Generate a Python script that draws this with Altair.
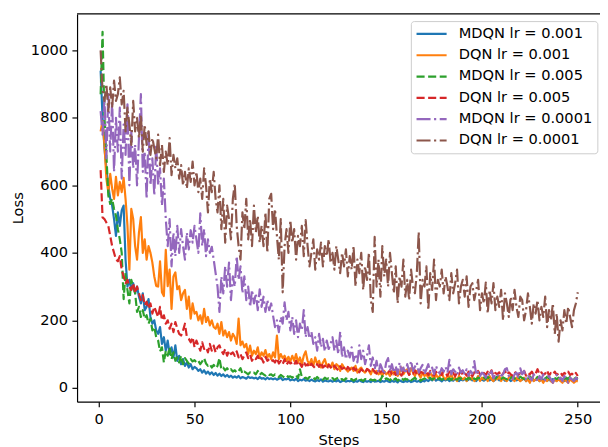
import altair as alt
import pandas as pd

steps = list(range(1, 251))

series_names = ["MDQN lr = 0.001", "DQN lr = 0.001", "MDQN lr = 0.005",
                "DQN lr = 0.005", "MDQN lr = 0.0001", "DQN lr = 0.0001"]

mdqn_001 = [
    940, 800, 710, 650, 600, 560, 540, 500, 450, 520,
    480, 526, 540, 380, 300, 320, 290, 310, 280, 300,
    270, 250, 280, 230, 240, 263, 210, 190, 200, 170,
    160, 180, 130, 150, 110, 140, 100, 120, 90, 126,
    80, 95, 70, 85, 65, 75, 60, 70, 55, 62,
    58, 50, 55, 45, 52, 42, 48, 40, 46, 38,
    44, 36, 42, 35, 40, 33, 38, 32, 36, 30,
    34, 30, 35, 28, 32, 30, 27, 33, 29, 31,
    28, 30, 26, 32, 27, 29, 25, 30, 26, 28,
    25, 28, 24, 27, 30, 23, 26, 25, 28, 22,
    25, 22, 27, 20, 24, 22, 26, 21, 23, 20,
    24, 21, 19, 23, 20, 25, 18, 22, 20, 19,
    22, 18, 21, 19, 23, 17, 20, 22, 18, 21,
    19, 22, 17, 20, 18, 23, 19, 17, 21, 18,
    20, 17, 22, 18, 19, 21, 17, 20, 18, 22,
    19, 17, 21, 18, 20, 16, 22, 19, 17, 20,
    18, 21, 17, 19, 22, 18, 20, 17, 21, 19,
    24, 20, 26, 22, 28, 21, 25, 23, 19, 24,
    22, 26, 20, 24, 21, 27, 23, 20, 25, 22,
    26, 21, 24, 28, 22, 25, 20, 27, 23, 24,
    21, 25, 28, 22, 26, 20, 24, 30, 22, 25,
    27, 21, 24, 26, 20, 23, 28, 22, 25, 21,
    24, 28, 20, 25, 22, 27, 21, 24, 26, 20,
    25, 22, 28, 21, 24, 20, 26, 23, 21, 25,
    22, 26, 20, 24, 21, 25, 22, 20, 24, 22,
]

dqn_001 = [
    760, 790, 720, 620, 580, 634, 590, 560, 625, 570,
    610, 580, 622, 560, 480, 350, 530, 500, 420, 380,
    460, 506, 400, 440, 380, 420, 400, 371, 330, 302,
    300, 375, 283, 272, 409, 301, 350, 234, 330, 342,
    292, 301, 260, 280, 290, 234, 270, 205, 250, 220,
    225, 200, 215, 190, 234, 195, 210, 185, 200, 180,
    175, 190, 160, 195, 155, 170, 150, 165, 140, 160,
    150, 130, 205, 126, 137, 120, 130, 100, 125, 95,
    110, 100, 120, 88, 105, 95, 112, 90, 100, 85,
    105, 90, 155, 85, 100, 88, 95, 80, 92, 78,
    95, 80, 100, 75, 90, 70, 95, 108, 80, 70,
    85, 65, 90, 70, 80, 60, 75, 85, 65, 70,
    60, 75, 55, 70, 65, 50, 70, 60, 55, 48,
    55, 60, 50, 65, 45, 55, 60, 50, 45, 55,
    50, 40, 55, 45, 50, 40, 45, 35, 50, 40,
    45, 35, 50, 40, 55, 35, 45, 60, 40, 50,
    55, 40, 60, 45, 35, 50, 40, 30, 45, 35,
    40, 30, 45, 35, 25, 40, 30, 35, 45, 30,
    25, 35, 30, 40, 25, 30, 20, 35, 30, 25,
    30, 20, 35, 25, 30, 20, 25, 35, 20, 30,
    25, 30, 20, 35, 25, 20, 30, 25, 35, 20,
    30, 25, 20, 30, 35, 25, 20, 30, 25, 20,
    25, 30, 20, 25, 15, 30, 20, 25, 30, 20,
    25, 15, 25, 20, 30, 20, 15, 25, 20, 25,
    20, 15, 25, 20, 15, 25, 20, 15, 20, 20,
]

mdqn_005 = [
    870, 1055, 800, 690, 570, 545, 560, 530, 510, 470,
    440, 400, 263, 340, 290, 250, 320, 300, 280, 225,
    240, 210, 230, 205, 215, 190, 205, 170, 180, 150,
    140, 108, 120, 75, 110, 95, 120, 85, 105, 80,
    90, 75, 95, 70, 88, 80, 72, 85, 78, 82,
    75, 80, 70, 78, 88, 72, 65, 70, 60, 68,
    58, 65, 88, 55, 60, 52, 58, 50, 55, 48,
    52, 45, 50, 58, 42, 48, 44, 40, 46, 42,
    45, 40, 50, 38, 44, 40, 36, 42, 38, 40,
    35, 40, 36, 32, 38, 34, 30, 36, 32, 34,
    30, 34, 38, 28, 55, 32, 28, 30, 26, 32,
    28, 30, 25, 32, 27, 29, 24, 30, 26, 28,
    25, 29, 23, 27, 30, 24, 26, 22, 28, 25,
    23, 26, 21, 25, 28, 22, 24, 20, 26, 23,
    21, 25, 22, 24, 20, 26, 22, 35, 24, 28,
    26, 22, 30, 24, 28, 21, 25, 30, 23, 27,
    24, 29, 22, 26, 30, 23, 27, 21, 25, 28,
    23, 27, 30, 24, 28, 22, 26, 29, 24, 27,
    30, 25, 28, 23, 32, 26, 24, 29, 27, 31,
    28, 24, 30, 26, 33, 27, 25, 30, 28, 26,
    30, 26, 32, 28, 25, 31, 27, 34, 29, 26,
    31, 28, 25, 32, 29, 35, 27, 30, 26, 33,
    29, 26, 31, 28, 34, 27, 30, 25, 32, 28,
    26, 30, 27, 33, 28, 25, 31, 29, 26, 30,
    28, 32, 26, 30, 27, 33, 29, 26, 30, 28,
]

dqn_005 = [
    645, 505, 500, 490, 480, 450, 420, 400, 380, 375,
    390, 350, 330, 310, 320, 300, 290, 310, 280, 300,
    280, 260, 275, 245, 255, 235, 250, 220, 240, 225,
    210, 240, 200, 215, 190, 200, 175, 190, 165, 195,
    175, 160, 155, 170, 190, 150, 145, 135, 150, 120,
    140, 125, 110, 135, 115, 120, 105, 130, 110, 125,
    105, 120, 126, 110, 100, 115, 95, 110, 100, 105,
    95, 108, 90, 100, 85, 95, 105, 88, 98, 80,
    90, 85, 95, 80, 88, 75, 92, 80, 85, 78,
    82, 75, 88, 72, 80, 70, 85, 68, 78, 72,
    75, 68, 80, 65, 72, 62, 78, 66, 70, 60,
    72, 64, 58, 70, 62, 75, 60, 66, 55, 68,
    62, 55, 66, 58, 52, 64, 56, 60, 50, 62,
    55, 48, 60, 52, 58, 46, 55, 50, 44, 56,
    52, 46, 55, 48, 42, 54, 46, 50, 44, 48,
    45, 52, 40, 48, 38, 50, 44, 36, 48, 42,
    50, 38, 46, 42, 52, 40, 36, 48, 44, 40,
    46, 38, 50, 42, 36, 48, 40, 44, 38, 50,
    42, 36, 48, 40, 44, 34, 46, 40, 50, 38,
    44, 36, 48, 40, 34, 46, 38, 50, 40, 36,
    44, 38, 48, 40, 52, 36, 44, 40, 46, 34,
    42, 50, 38, 46, 40, 36, 48, 42, 38, 44,
    40, 50, 36, 44, 40, 48, 38, 42, 55, 40,
    46, 38, 42, 52, 36, 44, 40, 48, 38, 42,
    46, 36, 44, 40, 48, 38, 42, 36, 44, 35,
]

mdqn_0001 = [
    820, 750, 860, 680, 870, 700, 850, 640, 800, 700,
    830, 620, 780, 690, 840, 600, 760, 650, 720, 600,
    740, 870, 640, 700, 560, 760, 600, 680, 570, 720,
    600, 650, 540, 620, 500, 420, 500, 360, 460, 390,
    480, 400, 470, 420, 380, 460, 410, 467, 430, 480,
    440, 400, 517, 420, 470, 390, 440, 400, 418, 380,
    340, 300, 225, 330, 280, 360, 300, 371, 260, 330,
    300, 390, 320, 360, 280, 330, 260, 300, 240, 290,
    250, 280, 230, 292, 240, 270, 225, 260, 230, 250,
    213, 180, 200, 165, 210, 190, 253, 200, 225, 170,
    210, 160, 200, 150, 190, 170, 230, 150, 180, 146,
    166, 130, 150, 110, 160, 120, 145, 108, 140, 115,
    130, 150, 110, 140, 100, 166, 90, 120, 85, 110,
    90, 120, 80, 100, 75, 126, 85, 110, 70, 95,
    126, 65, 90, 55, 80, 45, 70, 55, 40, 75,
    88, 50, 70, 45, 65, 40, 75, 50, 60, 42,
    70, 48, 80, 50, 62, 75, 45, 58, 68, 40,
    55, 70, 45, 60, 40, 65, 50, 42, 58, 48,
    62, 45, 83, 40, 55, 48, 38, 60, 45, 52,
    40, 55, 35, 50, 42, 79, 38, 48, 35, 45,
    40, 30, 45, 35, 50, 28, 38, 42, 30, 36,
    40, 55, 58, 35, 30, 25, 40, 45, 30, 58,
    40, 50, 25, 35, 30, 22, 40, 30, 18, 35,
    25, 40, 22, 30, 35, 25, 15, 30, 38, 25,
    30, 20, 35, 25, 15, 30, 25, 20, 30, 25,
]

dqn_0001 = [
    1000, 880, 850, 900, 820, 890, 830, 910, 850, 870,
    920, 840, 880, 760, 830, 780, 720, 850, 760, 800,
    740, 810, 700, 780, 720, 760, 690, 740, 710, 680,
    750, 660, 720, 640, 700, 660, 740, 630, 690, 650,
    680, 620, 660, 600, 640, 590, 650, 610, 670, 600,
    640, 580, 620, 560, 650, 600, 520, 620, 580, 640,
    560, 520, 600, 470, 560, 430, 540, 500, 440, 560,
    605, 480, 420, 380, 520, 470, 560, 440, 500, 420,
    540, 460, 510, 430, 480, 420, 520, 400, 560, 575,
    470, 530, 450, 380, 500, 283, 420, 470, 400, 497,
    430, 470, 380, 450, 420, 480, 390, 497, 420, 360,
    400, 440, 350, 410, 380, 430, 360, 420, 390, 440,
    370, 400, 350, 420, 380, 340, 400, 360, 410, 330,
    390, 350, 420, 300, 380, 340, 400, 290, 360, 320,
    400, 260, 225, 447, 300, 380, 270, 420, 330, 380,
    300, 400, 340, 280, 360, 250, 330, 300, 380, 270,
    320, 260, 350, 300, 280, 340, 462, 250, 320, 300,
    360, 230, 340, 290, 380, 260, 320, 300, 350, 280,
    330, 300, 260, 340, 280, 310, 350, 250, 300, 320,
    270, 330, 240, 300, 310, 260, 290, 320, 230, 280,
    250, 312, 220, 290, 250, 310, 230, 270, 240, 290,
    200, 280, 250, 210, 270, 230, 290, 240, 210, 270,
    260, 200, 230, 280, 240, 190, 250, 220, 260, 200,
    240, 210, 270, 180, 230, 200, 250, 160, 220, 137,
    200, 170, 230, 190, 240, 210, 180, 230, 250, 283,
]

all_values = [mdqn_001, dqn_001, mdqn_005, dqn_005, mdqn_0001, dqn_0001]

colors = ["#1f77b4", "#ff7f0e", "#2ca02c", "#d62728", "#9467bd", "#8c564b"]
dashes = [[1, 0], [1, 0], [8.2, 3.55], [8.2, 3.55],
          [14.2, 3.55, 2.2, 3.55], [14.2, 3.55, 2.2, 3.55]]

rows = []
for name, vals in zip(series_names, all_values):
    for s, v in zip(steps, vals):
        rows.append({"Steps": s, "Loss": v, "series": name})
df = pd.DataFrame(rows)

FONT = "DejaVu Sans"
FS = 14.8
W, H = 530, 393

legend = alt.Legend(
    title=None, orient="none", legendX=338.3, legendY=7.3,
    symbolType="stroke", symbolSize=930, symbolStrokeWidth=2.2, clipHeight=17,
    labelFont=FONT, labelFontSize=FS, labelColor="black", labelOffset=11,
    rowPadding=4.6, padding=4.5, fillColor="rgba(255,255,255,0.8)",
    strokeColor="#cccccc", cornerRadius=3,
)

base = alt.Chart(df).mark_line(strokeWidth=2.2, strokeJoin="round", strokeCap="butt").encode(
    x=alt.X("Steps:Q", scale=alt.Scale(domain=[-11.3, 261.6], nice=False, zero=False),
            axis=alt.Axis(values=[0, 50, 100, 150, 200, 250], title="Steps", format="d")),
    y=alt.Y("Loss:Q", scale=alt.Scale(domain=[-41, 1108], nice=False, zero=False),
            axis=alt.Axis(values=[0, 200, 400, 600, 800, 1000], title="Loss", format="d")),
    color=alt.Color("series:N", scale=alt.Scale(domain=series_names, range=colors), legend=legend),
    strokeDash=alt.StrokeDash("series:N", scale=alt.Scale(domain=series_names, range=dashes), legend=legend),
)

layers = [base.transform_filter(alt.datum.series == name) for name in series_names]

spine = alt.Chart(pd.DataFrame({"a": [0]})).mark_rule(color="black", strokeWidth=1.18).encode(
    x=alt.value(0), x2=alt.value(W), y=alt.value(0)
)

chart = alt.layer(*layers, spine).properties(
    width=W, height=H,
    autosize=alt.AutoSizeParams(type="none"),
    padding={"left": 70, "top": 3, "right": 0, "bottom": 43},
).configure_view(stroke=None).configure_axis(
    grid=False,
    domainColor="black", domainWidth=1.18,
    tickColor="black", tickWidth=1.18, tickSize=5.2,
    labelFont=FONT, labelFontSize=FS, labelColor="black", labelPadding=4.5,
    titleFont=FONT, titleFontSize=FS, titleColor="black", titleFontWeight="normal",
).configure_axisX(titlePadding=6.5).configure_axisY(titlePadding=5)

chart.save("out.html", embed_options={"renderer": "svg", "actions": False})
